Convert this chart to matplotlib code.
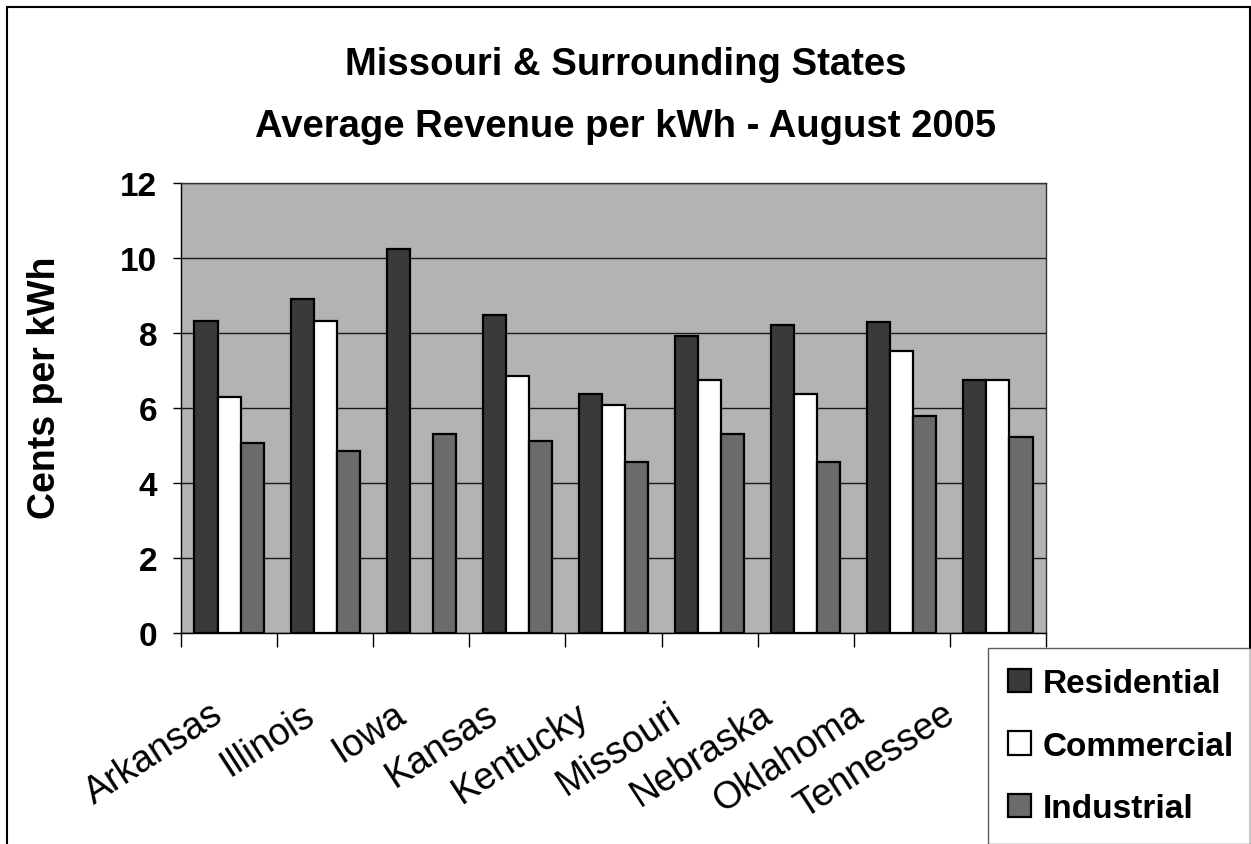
import matplotlib
matplotlib.use("Agg")
import matplotlib.pyplot as plt
import matplotlib.patches as patches
import matplotlib.transforms as mtransforms
import numpy as np

states = ["Arkansas", "Illinois", "Iowa", "Kansas", "Kentucky",
          "Missouri", "Nebraska", "Oklahoma", "Tennessee"]
residential = [8.33, 8.91, 10.24, 8.49, 6.37, 7.91, 8.21, 8.29, 6.76]
commercial = [6.30, 8.31, np.nan, 6.85, 6.09, 6.76, 6.37, 7.53, 6.76]
industrial = [5.06, 4.85, 5.32, 5.13, 4.55, 5.32, 4.55, 5.80, 5.23]
series_names = ["Residential", "Commercial", "Industrial"]
yticks = [0, 2, 4, 6, 8, 10, 12]

fam = ["Liberation Sans", "DejaVu Sans"]

W, H = 1251, 845
fig = plt.figure(figsize=(W / 100, H / 100), dpi=100, facecolor="white")
ax = fig.add_axes([181 / W, 1 - 634 / H, (1046 - 181) / W, (634 - 184) / H])
ax.set_facecolor("#b3b3b3")

x = np.arange(len(states))
bw = 0.24
colors = ["#3a3a3a", "#ffffff", "#6b6b6b"]
handles = []
for k, vals in enumerate([residential, commercial, industrial]):
    b = ax.bar(x + (k - 1) * bw, vals, bw, color=colors[k],
               edgecolor="black", linewidth=1.6, zorder=3,
               label=series_names[k])
    handles.append(b)

ax.set_xlim(-0.5, len(states) - 0.5)
ax.set_ylim(0, 12)
ax.set_yticks(yticks)
ax.set_yticklabels([str(v) for v in yticks], family=fam,
                   fontweight="bold", fontsize=24)
ax.tick_params(axis="y", direction="out", length=6, width=1, pad=11)
ax.yaxis.grid(True, color="#1a1a1a", linewidth=1, zorder=1)
ax.set_axisbelow(True)

# category boundary ticks (minor) and label anchors (major)
ax.set_xticks(np.arange(len(states) + 1) - 0.5, minor=True)
ax.tick_params(axis="x", which="minor", direction="out", length=10, width=1)
ax.set_xticks(x)
ax.tick_params(axis="x", which="major", length=0, pad=62)
labels = ax.set_xticklabels(states, family=fam, fontsize=27, rotation=33,
                            ha="right", va="baseline", rotation_mode="anchor")
for i, t in enumerate(labels):
    dx = (-4 - 4.6 * i) / 100
    t.set_transform(t.get_transform() +
                    mtransforms.ScaledTranslation(dx, 0, fig.dpi_scale_trans))

for s in ax.spines.values():
    s.set_color("#333333")
    s.set_linewidth(1)
ax.spines["left"].set_color("black")
ax.spines["bottom"].set_color("black")

ax.set_ylabel("Cents per kWh", family=fam, fontweight="bold", fontsize=27,
              va="center")
ax.yaxis.set_label_coords(-0.157, 0.547)

fig.text(0.5, 1 - 65 / H, "Missouri & Surrounding States", family=fam,
         fontweight="bold", fontsize=27.5, ha="center", va="center")
fig.text(0.5, 1 - 127 / H, "Average Revenue per kWh - August 2005",
         family=fam, fontweight="bold", fontsize=27.5, ha="center",
         va="center")

leg = fig.legend(handles=handles, labels=series_names, loc="upper left",
                 bbox_to_anchor=(988 / W, 1 - 649 / H), borderaxespad=0,
                 prop={"family": fam, "weight": "bold", "size": 24},
                 frameon=True, fancybox=False, handlelength=0.7,
                 handleheight=0.7, handletextpad=0.35, borderpad=0.6,
                 labelspacing=0.95)
leg.get_frame().set_edgecolor("#333333")
leg.get_frame().set_linewidth(1)

# outer chart border
fig.patches.append(patches.Rectangle((7 / W, -0.01), (1250 - 7) / W,
                                     1.01 - 8 / H, transform=fig.transFigure,
                                     fill=False, edgecolor="black",
                                     linewidth=1.5))

fig.savefig("out.png", dpi=100, facecolor="white")
